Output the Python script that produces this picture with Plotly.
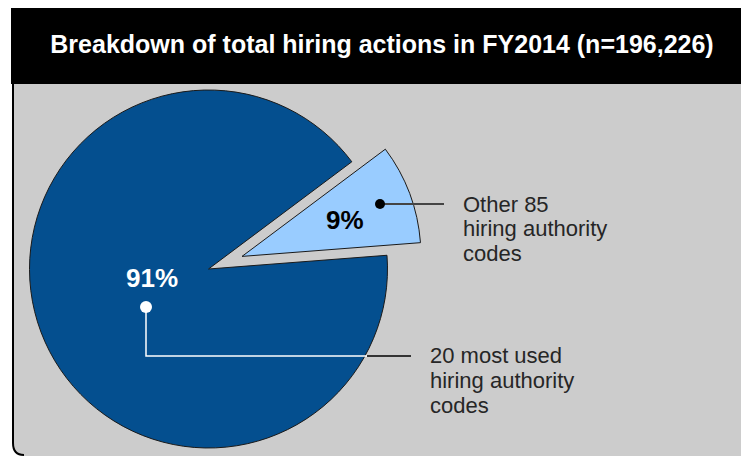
import numpy as np
import plotly.graph_objects as go

W, H = 741, 456

# ---- data ----
title_text = "Breakdown of total hiring actions in FY2014 (n=196,226)"
segments = ["Other 85 hiring authority codes", "20 most used hiring authority codes"]
shares = [9, 91]
label_lines = [["Other 85", "hiring authority", "codes"],
               ["20 most used", "hiring authority", "codes"]]
pulls = [0.2, 0.0]

# ---- style ----
DARK = "#044f8f"
LIGHT = "#99ccff"
PANEL = "#cccccc"
CLEAR = "rgba(0,0,0,0)"
FONT = "Liberation Sans, Arial, sans-serif"


def px(x):
    return x / W


def py(y):
    return 1 - y / H


# pie geometry (pixels)
cx, cy, r = 208.5, 269.0, 179.0
start_from_top = 53.2  # degrees clockwise from 12 o'clock

fig = go.Figure()

total = float(sum(shares))
angle = start_from_top
for i, (seg, val) in enumerate(zip(segments, shares)):
    span = 360.0 * val / total
    mid = np.radians(angle + span / 2)
    ox = pulls[i] * r * np.sin(mid)
    oy = -pulls[i] * r * np.cos(mid)
    colors = [CLEAR] * len(shares)
    widths = [0] * len(shares)
    colors[i] = LIGHT if i == 0 else DARK
    widths[i] = 1
    x0, x1 = cx + ox - r, cx + ox + r
    y0, y1 = cy + oy - r, cy + oy + r
    fig.add_trace(go.Pie(
        labels=segments, values=shares, sort=False, direction="clockwise",
        rotation=start_from_top, textinfo="none", hoverinfo="label+percent",
        marker=dict(colors=colors, line=dict(color="#1a1a1a", width=widths)),
        domain=dict(x=[px(x0), px(x1)], y=[py(y1), py(y0)]),
        showlegend=False,
    ))
    angle += span

shapes = []
# header
shapes.append(dict(type="rect", xref="paper", yref="paper", layer="below",
                   x0=px(11), x1=px(741), y0=py(84), y1=py(8),
                   fillcolor="black", line=dict(width=0)))
# panel
shapes.append(dict(type="path", xref="paper", yref="paper", layer="below",
                   path=f"M {px(13)},{py(84)} L {px(741)},{py(84)} L {px(741)},{py(456)} "
                        f"L {px(24)},{py(456)} Q {px(13)},{py(456)} {px(13)},{py(444)} Z",
                   fillcolor=PANEL, line=dict(width=0)))
shapes.append(dict(type="path", xref="paper", yref="paper", layer="below",
                   path=f"M {px(13)},{py(84)} L {px(13)},{py(443)} Q {px(13)},{py(455)} {px(24)},{py(455)}",
                   line=dict(color="black", width=2)))

# leader for small slice
shapes.append(dict(type="line", xref="paper", yref="paper", layer="above",
                   x0=px(380), x1=px(444), y0=py(204), y1=py(204),
                   line=dict(color="#444444", width=2)))
shapes.append(dict(type="circle", xref="paper", yref="paper", layer="above",
                   x0=px(375), x1=px(385), y0=py(209), y1=py(199),
                   fillcolor="black", line=dict(width=0)))
# leader for large slice
shapes.append(dict(type="path", xref="paper", yref="paper", layer="above",
                   path=f"M {px(146)},{py(307)} L {px(146)},{py(356)} L {px(367)},{py(356)}",
                   line=dict(color="white", width=1.5)))
shapes.append(dict(type="line", xref="paper", yref="paper", layer="above",
                   x0=px(367), x1=px(411), y0=py(356), y1=py(356),
                   line=dict(color="black", width=1.5)))
shapes.append(dict(type="circle", xref="paper", yref="paper", layer="above",
                   x0=px(140), x1=px(152), y0=py(313), y1=py(301),
                   fillcolor="white", line=dict(width=0)))

annotations = []
pct_pos = [(345, 220, "black"), (152, 278, "white")]
for (x, y, c), val in zip(pct_pos, shares):
    annotations.append(dict(xref="paper", yref="paper", x=px(x), y=py(y),
                            text=f"<b>{round(100 * val / total)}%</b>", showarrow=False,
                            xanchor="center", yanchor="middle",
                            font=dict(family=FONT, size=26, color=c)))

label_pos = [(461, 204), (428, 355)]
for (x, y), lines in zip(label_pos, label_lines):
    for k, line in enumerate(lines):
        annotations.append(dict(xref="paper", yref="paper", x=px(x), y=py(y + 25 * k),
                                text=line, showarrow=False, xanchor="left", yanchor="middle",
                                font=dict(family=FONT, size=22, color="#262626")))

fig.update_layout(
    width=W, height=H, margin=dict(l=0, r=0, t=0, b=0),
    paper_bgcolor="white", plot_bgcolor="white",
    title=dict(text=f"<b>{title_text}</b>", x=px(382), xanchor="center",
               y=py(44), yanchor="middle", yref="container",
               font=dict(family=FONT, size=25, color="white")),
    shapes=shapes, annotations=annotations,
)

fig.write_html("out.html", config={"displayModeBar": False},
               post_script="document.body.style.margin='0';document.body.style.overflow='hidden';")
